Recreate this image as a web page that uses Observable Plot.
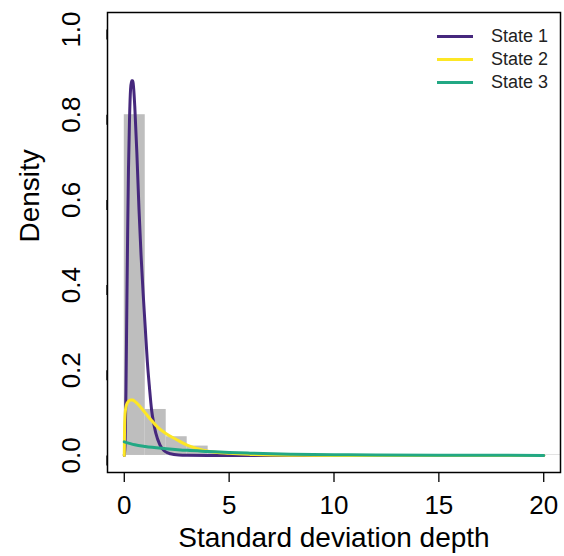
<!DOCTYPE html>
<html>
<head>
<meta charset="utf-8">
<script src="https://cdn.jsdelivr.net/npm/d3@7"></script>
<script src="https://cdn.jsdelivr.net/npm/@observablehq/plot@0.6"></script>
<style>
  html, body { margin: 0; padding: 0; background: #fff; }
  #wrap { position: relative; width: 564px; height: 556px; font-family: Arial, "Liberation Sans", sans-serif; }
  #legend { position: absolute; left: 437px; top: 25px; font-size: 18px; color: #222; }
  .row { display: flex; align-items: center; height: 23px; }
  .sw { width: 36px; height: 3px; margin-right: 18px; }
</style>
</head>
<body>
<div id="wrap"></div>
<script>
// Histogram (bin width 1, density scale)
const histStart = [0,1,2,3,4,5,6,7,8,9,10,11,12,13,14,15,16,17,18,19,20,21,22];
const histDensity = [0.80,0.108,0.044,0.022,0.007,0.005,0.003,0.002,0.0015,0.0012,0.001,0.001,0.001,0.001,0.001,0.001,0.001,0.001,0.001,0.001,0.001,0.001,0.001];

// Fitted state densities
const state1X = [0,0.04,0.08,0.12,0.16,0.20,0.25,0.30,0.35,0.40,0.45,0.50,0.60,0.70,0.80,0.90,1.00,1.10,1.20,1.30,1.40,1.50,1.70,1.90,2.20,2.60,3.0,4,6,10,20];
const state1Y = [0,0.03,0.15,0.34,0.52,0.67,0.79,0.86,0.88,0.88,0.86,0.82,0.71,0.58,0.47,0.38,0.30,0.22,0.16,0.108,0.076,0.053,0.025,0.011,0.004,0.001,0.0003,0,0,0,0];
const state2X = [0,0.01,0.03,0.06,0.1,0.2,0.3,0.4,0.5,0.7,1.0,1.3,1.6,2.0,2.5,3.0,3.5,4.0,5,6,7,8,10,12,20];
const state2Y = [0,0.05,0.09,0.108,0.118,0.127,0.13,0.13,0.127,0.118,0.1,0.082,0.066,0.051,0.037,0.024,0.016,0.010,0.005,0.0025,0.0012,0.0006,0.0001,0,0];
const state3X = [0,0.5,1,2,3,4,5,6,8,10,12,15,20];
const state3Y = [0.032,0.025,0.021,0.016,0.012,0.0095,0.0072,0.0054,0.003,0.0017,0.001,0.0005,0.0001];

const seriesNames = ["State 1","State 2","State 3"];
const seriesColors = ["#46287D","#FDE725","#22A884"];

const xTicks = [0,5,10,15,20];
const yTicks = [0,0.2,0.4,0.6,0.8,1.0];

const bins = histStart.map((s,i) => ({x1: s, x2: s + 1, d: histDensity[i]}));
const curves = [];
[[state1X,state1Y],[state2X,state2Y],[state3X,state3Y]].forEach(([xs,ys],k) => {
  xs.forEach((x,i) => curves.push({series: seriesNames[k], x, y: ys[i]}));
});

const chart = Plot.plot({
  width: 564,
  height: 556,
  marginLeft: 107,
  marginRight: 4,
  marginTop: 12,
  marginBottom: 84,
  style: {fontFamily: 'Arial, "Liberation Sans", sans-serif', background: "#fff", color: "#000"},
  x: {domain: [-0.8, 20.8]},
  y: {domain: [-0.04, 1.04]},
  color: {domain: seriesNames, range: seriesColors},
  marks: [
    Plot.rectY(bins, {x1: "x1", x2: "x2", y: "d", fill: "#bebebe", inset: 0, clip: true}),
    Plot.line(curves, {x: "x", y: "y", z: "series", stroke: "series", strokeWidth: 3, curve: "monotone-x", clip: true}),
    Plot.frame({stroke: "#000", strokeWidth: 1.5}),
    Plot.axisX({ticks: xTicks, tickSize: 10, tickPadding: 13, fontSize: 26, label: null, strokeWidth: 1.3}),
    Plot.axisY({ticks: yTicks, tickFormat: d3.format(".1f"), tickSize: 10, tickPadding: 26, fontSize: 26, rotate: -90, textAnchor: "middle", label: null, strokeWidth: 1.3}),
    Plot.text(["Standard deviation depth"], {frameAnchor: "bottom", dy: 74, fontSize: 28, fill: "#000"}),
    Plot.text(["Density"], {frameAnchor: "left", dx: -77, rotate: -90, fontSize: 28, fill: "#000"})
  ]
});

const wrap = document.getElementById("wrap");
wrap.appendChild(chart);
const legend = document.createElement("div");
legend.id = "legend";
seriesNames.forEach((name, i) => {
  const row = document.createElement("div");
  row.className = "row";
  const sw = document.createElement("div");
  sw.className = "sw";
  sw.style.background = seriesColors[i];
  const label = document.createElement("span");
  label.textContent = name;
  row.appendChild(sw);
  row.appendChild(label);
  legend.appendChild(row);
});
wrap.appendChild(legend);
</script>
</body>
</html>
